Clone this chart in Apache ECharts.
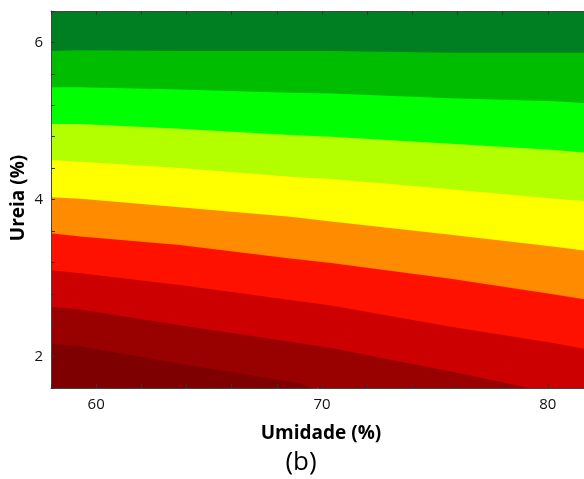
<!DOCTYPE html>
<html>
<head>
<meta charset="utf-8">
<script src="https://cdn.jsdelivr.net/npm/echarts@6/dist/echarts.min.js"></script>
<style>html,body{margin:0;padding:0;background:#fff;}#c{width:584px;height:479px;}</style>
</head>
<body>
<div id="c"></div>
<script>
// Umidade (%) sample positions where contour boundaries were read
const umidade = [58.0, 59.3, 63.7, 68.6, 70.4, 75.7, 80.3, 81.6];
// Ureia (%) level of each contour boundary (top to bottom)
const contour1 = [5.89, 5.90, 5.89, 5.89, 5.89, 5.87, 5.87, 5.87];
const contour2 = [5.43, 5.43, 5.40, 5.36, 5.35, 5.29, 5.25, 5.23];
const contour3 = [4.96, 4.96, 4.90, 4.82, 4.80, 4.71, 4.63, 4.60];
const contour4 = [4.50, 4.48, 4.40, 4.29, 4.26, 4.13, 4.01, 3.98];
const contour5 = [4.03, 4.01, 3.90, 3.78, 3.72, 3.55, 3.40, 3.35];
const contour6 = [3.57, 3.53, 3.42, 3.25, 3.19, 2.99, 2.79, 2.73];
const contour7 = [3.10, 3.06, 2.91, 2.72, 2.65, 2.38, 2.17, 2.10];
const contour8x = [58.0, 59.3, 63.7, 68.6, 70.4, 75.7, 79.2];
const contour8 = [2.63, 2.60, 2.40, 2.19, 2.11, 1.81, 1.60];
const contour9x = [58.0, 59.3, 63.7, 69.0, 69.5];
const contour9 = [2.16, 2.13, 1.91, 1.66, 1.60];
const contour0x = [58.0, 59.1];
const contour0 = [6.37, 6.40];

const xTickLabels = [60, 70, 80];
const yTickLabels = [2, 4, 6];

const topColor = '#007f22';
const bandColors = ['#00bd00', '#00ff00', '#b3ff00', '#ffff00', '#ff8c00', '#ff1100', '#cc0000', '#990000', '#7f0000'];

function pairs(xs, ys) { return xs.map((x, i) => [x, ys[i]]); }

const boundaries = [
  pairs(umidade, contour1), pairs(umidade, contour2), pairs(umidade, contour3),
  pairs(umidade, contour4), pairs(umidade, contour5), pairs(umidade, contour6),
  pairs(umidade, contour7), pairs(contour8x, contour8), pairs(contour9x, contour9)
];

const series = [{
  type: 'line', data: pairs(contour0x, contour0), showSymbol: false, silent: true,
  lineStyle: { width: 0 }, areaStyle: { color: '#1c5e3c', opacity: 1, origin: 'end' }
}];
boundaries.forEach((d, i) => {
  series.push({
    type: 'line', data: d, showSymbol: false, silent: true, smooth: false,
    lineStyle: { width: 0 }, areaStyle: { color: bandColors[i], opacity: 1, origin: 'start' }
  });
});

function fmt(list) {
  return v => list.some(t => Math.abs(t - v) < 1e-6) ? String(Math.round(v)) : '';
}

const axisCommon = {
  axisLine: { show: true, onZero: false, lineStyle: { color: '#444', width: 1 } },
  axisTick: { show: true, inside: true, length: 4, lineStyle: { color: '#333' } },
  splitLine: { show: false },
  z: 10
};

const chart = echarts.init(document.getElementById('c'), null, { renderer: 'canvas' });
chart.setOption({
  animation: false,
  backgroundColor: '#fff',
  grid: { left: 51, top: 11, right: 0, bottom: 91, show: true, backgroundColor: topColor, borderWidth: 0 },
  xAxis: [
    Object.assign({ type: 'value', min: 58, max: 81.6, interval: 2, position: 'bottom',
      axisLabel: { formatter: fmt(xTickLabels), fontSize: 15, color: '#111', margin: 9, fontFamily: 'Open Sans', showMaxLabel: false } }, axisCommon),
    Object.assign({ type: 'value', min: 58, max: 81.6, interval: 2, position: 'top',
      axisLabel: { show: false } }, axisCommon)
  ],
  yAxis: [
    Object.assign({ type: 'value', min: 1.6, max: 6.4, interval: 0.4, position: 'left',
      axisLabel: { formatter: fmt(yTickLabels), fontSize: 15, color: '#111', margin: 8, fontFamily: 'Open Sans' } }, axisCommon)
  ],
  series: series,
  graphic: [
    { type: 'text', x: 321, y: 434, silent: true,
      style: { text: 'Umidade (%)', textAlign: 'center', textVerticalAlign: 'middle', font: 'bold 19px "Open Sans"', fill: '#000' } },
    { type: 'text', x: 19, y: 198, rotation: Math.PI / 2, silent: true,
      style: { text: 'Ureia (%)', textAlign: 'center', textVerticalAlign: 'middle', font: 'bold 19px "Open Sans"', fill: '#000' } },
    { type: 'text', x: 301, y: 463, silent: true,
      style: { text: '(b)', textAlign: 'center', textVerticalAlign: 'middle', font: '26px "Open Sans"', fill: '#000' } }
  ]
});
</script>
</body>
</html>
